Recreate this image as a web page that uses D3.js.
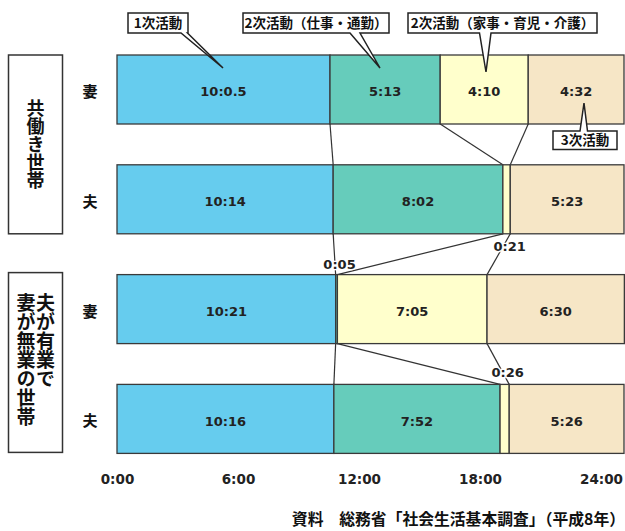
<!DOCTYPE html>
<html>
<head>
<meta charset="utf-8">
<script src="https://cdn.jsdelivr.net/npm/d3@7"></script>
<style>
  html, body { margin: 0; padding: 0; background: #fff; }
  svg { display: block; }
</style>
</head>
<body>
<svg id="chart" width="625" height="531"></svg>
<script>
// ---------- data ----------
const rowLabels   = ["妻", "夫", "妻", "夫"];
const primary     = ["10:05", "10:14", "10:21", "10:16"];   // 1次活動
const primaryText = ["10:0.5", "10:14", "10:21", "10:16"];  // label as printed
const work        = ["5:13", "8:02", "0:05", "7:52"];       // 2次活動（仕事・通勤）
const house       = ["4:10", "0:21", "7:05", "0:26"];       // 2次活動（家事・育児・介護）
const tertiary    = ["4:32", "5:23", "6:30", "5:26"];       // 3次活動
const categories  = ["1次活動", "2次活動（仕事・通勤）", "2次活動（家事・育児・介護）", "3次活動"];
const groupTitles = [["共働き世帯"], ["夫が有業で", "妻が無業の世帯"]];
const groupRows   = [[0, 1], [2, 3]];
const tickHours   = [0, 6, 12, 18, 24];
const sourceText  = "資料　総務省「社会生活基本調査」（平成8年）";

// ---------- helpers ----------
const toH = s => { const [h, m] = s.split(":").map(Number); return h + m / 60; };
const colors = ["#66CCEE", "#66CCBB", "#FFFFCC", "#F6E6C6"];
const cjk = "'Noto Sans CJK JP', 'Noto Sans', sans-serif";
const num = "'DejaVu Sans', sans-serif";

const svg = d3.select("#chart");

const x = d3.scaleLinear().domain([0, 24]).range([117, 624]);
const xLab = d3.scaleLinear().domain([0, 24]).range([117, 601]);
const y = d3.scaleBand().domain([0, 1, 2, 3]).range([55, 453.4]).paddingInner(0.3716).paddingOuter(0);
const bw = y.bandwidth();

// build segments
const rows = rowLabels.map((lab, i) => {
  const vals = [primary[i], work[i], house[i], tertiary[i]];
  const texts = [primaryText[i], work[i], house[i], tertiary[i]];
  let c = 0;
  const segs = vals.map((v, k) => {
    const h = toH(v);
    const s = { row: i, k, x0: c, x1: c + h, text: texts[k], h };
    c += h;
    return s;
  });
  return { label: lab, segs };
});

// ---------- connector lines ----------
const conn = svg.append("g").attr("stroke", "#333").attr("stroke-width", 1.2).attr("fill", "none");
for (let i = 0; i < rows.length - 1; i++) {
  for (let k = 0; k < 3; k++) {
    conn.append("line")
      .attr("x1", x(rows[i].segs[k].x1)).attr("y1", y(i) + bw)
      .attr("x2", x(rows[i + 1].segs[k].x1)).attr("y2", y(i + 1));
  }
}

// ---------- bars ----------
const allSegs = rows.flatMap(r => r.segs);
svg.append("g").selectAll("rect").data(allSegs).join("rect")
  .attr("x", d => x(d.x0)).attr("width", d => x(d.x1) - x(d.x0))
  .attr("y", d => y(d.row)).attr("height", bw)
  .attr("fill", d => colors[d.k])
  .attr("stroke", "#3a3a3a").attr("stroke-width", 1.3);

// in-bar values
svg.append("g").selectAll("text").data(allSegs.filter(d => d.h >= 1)).join("text")
  .attr("x", d => (x(d.x0) + x(d.x1)) / 2)
  .attr("y", d => y(d.row) + bw / 2 + 2)
  .attr("dy", "0.36em")
  .attr("text-anchor", "middle")
  .attr("font-family", num).attr("font-weight", "bold").attr("font-size", 13)
  .attr("fill", "#222")
  .text(d => d.text);

// small segment values outside bars
const smallSide = { 1: "below", 2: "above", 3: "above" };
svg.append("g").selectAll("text").data(allSegs.filter(d => d.h < 1)).join("text")
  .attr("x", d => (x(d.x0) + x(d.x1)) / 2 + 3)
  .attr("y", d => smallSide[d.row] === "below" ? y(d.row) + bw + 12.5 : y(d.row) - (d.row === 2 ? 10 : 12))
  .attr("dy", "0.36em")
  .attr("text-anchor", "middle")
  .attr("font-family", num).attr("font-weight", "bold").attr("font-size", 13)
  .attr("fill", "#222")
  .attr("stroke", "#fff").attr("stroke-width", 2.5).attr("paint-order", "stroke")
  .text(d => d.text);

// row labels
svg.append("g").selectAll("text").data(rows).join("text")
  .attr("x", 90).attr("y", (d, i) => y(i) + bw / 2 + 2)
  .attr("dy", "0.36em").attr("text-anchor", "middle")
  .attr("font-family", cjk).attr("font-weight", "bold").attr("font-size", 15)
  .attr("fill", "#111")
  .text(d => d.label);

// ---------- group boxes ----------
const gBoxes = [
  { y0: y(groupRows[0][0]), y1: y(groupRows[0][1]) + bw, titles: groupTitles[0], fs: 18 },
  { y0: y(groupRows[1][0]) - 2, y1: y(groupRows[1][1]) + bw - 1, titles: groupTitles[1], fs: 19 }
];
gBoxes.forEach(b => {
  svg.append("rect").attr("x", 8.5).attr("y", b.y0).attr("width", 54).attr("height", b.y1 - b.y0)
    .attr("fill", "#fff").attr("stroke", "#333").attr("stroke-width", 1.5);
  const n = b.titles.length;
  b.titles.forEach((t, j) => {
    const cx = n === 1 ? 35.5 : (j === 0 ? 45.5 : 26);
    const tEl = svg.append("text")
      .attr("x", cx)
      .attr("font-family", cjk).attr("font-weight", "bold").attr("font-size", b.fs)
      .attr("fill", "#111")
      .style("writing-mode", "vertical-rl")
      .text(t);
    if (n === 1) tEl.attr("y", (b.y0 + b.y1) / 2).attr("text-anchor", "middle");
    else tEl.attr("y", b.y0 + 21).attr("text-anchor", "start");
  });
});

// ---------- callouts ----------
const callouts = [
  { bx: 128, by: 13, bw: 60, bh: 20, b0: 181, b1: 187.5, tip: [223, 68], side: "bottom" },
  { bx: 243, by: 13, bw: 146, bh: 20, b0: 350, b1: 360, tip: [380, 68], side: "bottom" },
  { bx: 408, by: 13, bw: 189, bh: 20, b0: 479.5, b1: 491, tip: [486, 72], side: "bottom" },
  { bx: 553, by: 131, bw: 64, bh: 18.5, b0: 580, b1: 587.5, tip: [584, 103], side: "top" }
];
callouts.forEach((c, i) => {
  const p = d3.path();
  const xr = c.bx + c.bw, yb = c.by + c.bh;
  if (c.side === "bottom") {
    p.moveTo(c.bx, c.by); p.lineTo(xr, c.by); p.lineTo(xr, yb);
    p.lineTo(c.b1, yb); p.lineTo(c.tip[0], c.tip[1]); p.lineTo(c.b0, yb);
    p.lineTo(c.bx, yb); p.closePath();
  } else {
    p.moveTo(c.bx, c.by); p.lineTo(c.b0, c.by); p.lineTo(c.tip[0], c.tip[1]);
    p.lineTo(c.b1, c.by); p.lineTo(xr, c.by); p.lineTo(xr, yb);
    p.lineTo(c.bx, yb); p.closePath();
  }
  svg.append("path").attr("d", p.toString())
    .attr("fill", "#fff").attr("stroke", "#222").attr("stroke-width", 1.5).attr("stroke-linejoin", "miter");
  svg.append("text")
    .attr("x", c.bx + c.bw / 2).attr("y", c.by + c.bh / 2)
    .attr("dy", "0.36em").attr("text-anchor", "middle")
    .attr("font-family", cjk).attr("font-weight", "bold").attr("font-size", 13.5)
    .attr("fill", "#111")
    .text(categories[i]);
});

// ---------- axis ----------
const axis = d3.axisBottom(xLab).tickValues(tickHours).tickFormat(d => d + ":00").tickSize(0).tickPadding(0);
const ag = svg.append("g").attr("transform", "translate(0,479)").call(axis);
ag.select(".domain").remove();
ag.selectAll("text")
  .attr("y", 0).attr("dy", "0.36em")
  .attr("font-family", num).attr("font-weight", "bold").attr("font-size", 13.5)
  .attr("fill", "#222");

// ---------- source ----------
svg.append("text")
  .attr("x", 625).attr("y", 525)
  .attr("text-anchor", "end")
  .attr("font-family", cjk).attr("font-weight", "bold").attr("font-size", 15.8)
  .attr("fill", "#111")
  .text(sourceText);
</script>
</body>
</html>
